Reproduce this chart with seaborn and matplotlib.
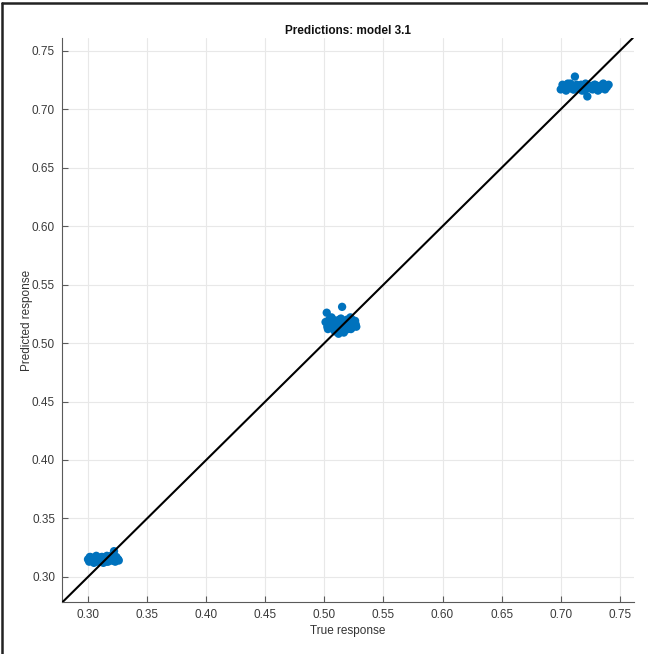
import numpy as np
import pandas as pd
import matplotlib
matplotlib.use("Agg")
import matplotlib.pyplot as plt
from matplotlib.lines import Line2D
import seaborn as sns

# ---- data ----
c1_true = [0.300,0.301,0.302,0.303,0.304,0.305,0.306,0.307,0.308,0.309,0.310,0.311,0.312,0.313,
           0.314,0.315,0.316,0.317,0.318,0.319,0.320,0.321,0.322,0.323,0.324,0.325,0.326,
           0.3015,0.3035,0.3055,0.3075,0.3095,0.3115,0.3135,0.3155,0.3175,0.3195,0.3215,0.3235,0.3255]
c1_pred = [0.315,0.313,0.317,0.314,0.316,0.312,0.315,0.318,0.314,0.316,0.313,0.315,0.317,0.312,
           0.316,0.314,0.318,0.313,0.315,0.317,0.314,0.316,0.322,0.313,0.317,0.315,0.314,
           0.317,0.314,0.316,0.313,0.315,0.317,0.316,0.313,0.315,0.318,0.314,0.316,0.315]

c2_true = [0.501,0.502,0.503,0.504,0.505,0.506,0.507,0.508,0.509,0.510,0.511,0.512,0.513,0.514,
           0.515,0.516,0.517,0.518,0.519,0.520,0.521,0.522,0.523,0.524,0.525,0.526,0.527,
           0.5025,0.5045,0.5065,0.5085,0.5105,0.5125,0.5145,0.5165,0.5185,0.5205,0.5225,0.5245,0.5265,
           0.5035,0.5075,0.5115,0.5155,0.5195,0.5235]
c2_pred = [0.518,0.526,0.512,0.520,0.515,0.522,0.513,0.517,0.510,0.519,0.514,0.508,0.516,0.521,
           0.531,0.511,0.518,0.514,0.520,0.512,0.516,0.522,0.513,0.517,0.515,0.519,0.514,
           0.514,0.517,0.521,0.511,0.516,0.520,0.513,0.509,0.518,0.515,0.512,0.518,0.516,
           0.515,0.512,0.519,0.517,0.514,0.520]

c3_true = [0.700,0.7015,0.703,0.7045,0.706,0.7075,0.709,0.7105,0.712,0.7135,0.715,0.7165,0.718,
           0.7195,0.721,0.7225,0.724,0.7255,0.727,0.7285,0.730,0.7315,0.733,0.7345,0.736,0.7375,
           0.739,0.7405,
           0.7022,0.7052,0.7082,0.7112,0.7142,0.7172,0.7202,0.7232,0.7262,0.7292,0.7322,0.7352,
           0.7382]
c3_pred = [0.717,0.721,0.719,0.716,0.722,0.718,0.720,0.717,0.728,0.721,0.718,0.720,0.716,
           0.719,0.722,0.711,0.718,0.720,0.717,0.721,0.719,0.716,0.720,0.718,0.722,0.717,
           0.719,0.721,
           0.720,0.718,0.722,0.717,0.719,0.721,0.716,0.720,0.718,0.721,0.717,0.720,
           0.719]

x_ticks = [0.30, 0.35, 0.40, 0.45, 0.50, 0.55, 0.60, 0.65, 0.70, 0.75]
y_ticks = [0.30, 0.35, 0.40, 0.45, 0.50, 0.55, 0.60, 0.65, 0.70, 0.75]
title = "Predictions: model 3.1"
xlabel = "True response"
ylabel = "Predicted response"

df = pd.DataFrame({
    "true": c1_true + c2_true + c3_true,
    "pred": c1_pred + c2_pred + c3_pred,
})

# ---- style ----
sns.set_theme(style="whitegrid")
plt.rcParams["font.family"] = ["Liberation Sans", "DejaVu Sans"]

fig = plt.figure(figsize=(6.48, 6.54), dpi=100)
ax = fig.add_axes([0.0957, 0.0795, 0.8827, 0.8624])

sns.scatterplot(data=df, x="true", y="pred", ax=ax, color="#0072BD",
                s=36, edgecolor="none", linewidth=0, zorder=3)
ax.axline((0.0, 0.0), slope=1.0, color="black", lw=1.5, zorder=4)

ax.set_xlim(0.278, 0.762)
ax.set_ylim(0.2785, 0.761)
ax.set_xticks(x_ticks)
ax.set_yticks(y_ticks)
ax.set_xticklabels([f"{v:.2f}" for v in x_ticks])
ax.set_yticklabels([f"{v:.2f}" for v in y_ticks])

ax.set_facecolor("white")
ax.grid(True, color="#e8e8e8", linewidth=0.8)
for side in ["top", "right"]:
    ax.spines[side].set_visible(False)
for side in ["left", "bottom"]:
    ax.spines[side].set_visible(True)
    ax.spines[side].set_color("#5a5a5a")
    ax.spines[side].set_linewidth(0.8)

ax.tick_params(axis="both", direction="in", length=4, width=0.8,
               color="#5a5a5a", labelcolor="#3a3a3a", labelsize=8.5, pad=5,
               left=True, bottom=True)

ax.set_title(title, fontsize=8.5, fontweight="bold", color="#111111", pad=3)
ax.set_xlabel(xlabel, fontsize=8.5, color="#333333", labelpad=3)
ax.set_ylabel(ylabel, fontsize=8.5, color="#333333", labelpad=-1)

# frame border (left and top edges, as in the screenshot)
fig.add_artist(Line2D([0.0035, 0.0035], [0.0, 0.9955], transform=fig.transFigure,
                      color="#222222", lw=1.8))
fig.add_artist(Line2D([0.0035, 1.0], [0.9955, 0.9955], transform=fig.transFigure,
                      color="#222222", lw=1.8))

fig.savefig("out.png", dpi=100, facecolor="white")
